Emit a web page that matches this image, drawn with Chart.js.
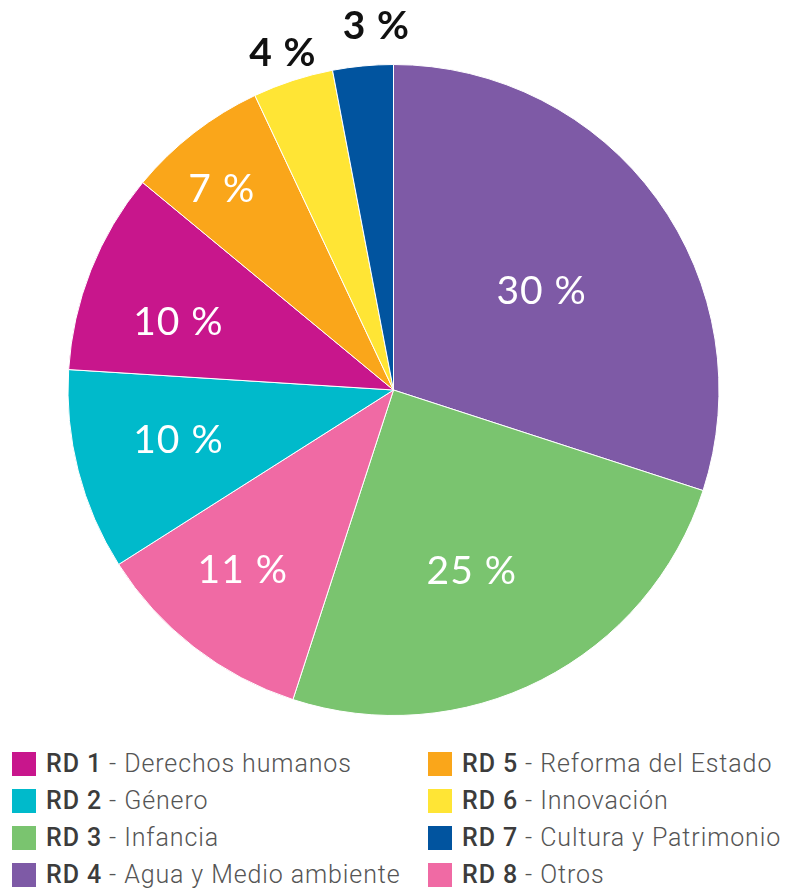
<!DOCTYPE html>
<html>
<head>
<meta charset="utf-8">
<script src="https://cdn.jsdelivr.net/npm/chart.js@4"></script>
<style>
  body { margin: 0; background: #fff; width: 791px; height: 890px; overflow: hidden; }
  #wrap { position: relative; width: 791px; height: 740px; }
  #legend { position: absolute; top: 745px; left: 12px; width: 779px; display: grid;
    grid-template-columns: 416px 360px; grid-auto-flow: column; grid-template-rows: repeat(4, 37px);
    font-family: Roboto, sans-serif; font-size: 25px; color: #555; letter-spacing: 0.9px; }
  #legend div { display: flex; align-items: center; white-space: nowrap; }
  #legend span.sw { width: 24px; height: 24px; margin-right: 10px; flex: none; }
  #legend b { font-weight: 500; color: #3c3c3c; }
  #legend span.t { font-weight: 300; }
</style>
</head>
<body>
<div id="wrap"><canvas id="chart"></canvas></div>
<div id="legend"></div>
<script>
// slices in drawing order, clockwise from the top
const codes = ["RD 4", "RD 3", "RD 8", "RD 2", "RD 1", "RD 5", "RD 6", "RD 7"];
const names = ["Agua y Medio ambiente", "Infancia", "Otros", "Género",
  "Derechos humanos", "Reforma del Estado", "Innovación", "Cultura y Patrimonio"];
const values = [30, 25, 11, 10, 10, 7, 4, 3];
const colors = ["#7E5AA6", "#7AC46F", "#F06AA4", "#00BACB", "#C8168C", "#FAA61A", "#FFE535", "#01549F"];

// label placement: distance as fraction of radius, angle nudge in degrees
const labelPos = [0.547, 0.608, 0.723, 0.679, 0.693, 0.811, 1.088, 1.118];
const labelShift = [2.3, 3.7, 2.0, 1.1, -4.1, -2.8, -0.2, 2.7];
const outside = [false, false, false, false, false, false, true, true];

const sliceLabels = {
  id: "sliceLabels",
  afterDatasetsDraw(chart) {
    const ctx = chart.ctx;
    const meta = chart.getDatasetMeta(0);
    ctx.save();
    ctx.textAlign = "center";
    ctx.textBaseline = "middle";
    ctx.letterSpacing = "1px";
    meta.data.forEach((arc, i) => {
      const p = arc.getProps(["x", "y", "startAngle", "endAngle", "outerRadius"], true);
      const a = (p.startAngle + p.endAngle) / 2 + labelShift[i] * Math.PI / 180;
      const r = p.outerRadius * labelPos[i];
      ctx.font = outside[i] ? "bold 39px Lato, sans-serif" : "39px Lato, sans-serif";
      ctx.fillStyle = outside[i] ? "#111" : "#fff";
      ctx.fillText(values[i] + " %", p.x + Math.cos(a) * r, p.y + Math.sin(a) * r);
    });
    ctx.restore();
  },
};

new Chart(document.getElementById("chart"), {
  type: "pie",
  data: {
    labels: codes,
    datasets: [{
      data: values,
      backgroundColor: colors,
      borderColor: "#fff",
      borderWidth: 1,
    }],
  },
  options: {
    responsive: true,
    maintainAspectRatio: false,
    animation: false,
    layout: { padding: { top: 64, bottom: 24, left: 0, right: 4 } },
    plugins: { legend: { display: false }, tooltip: { enabled: false } },
  },
  plugins: [sliceLabels],
});

// legend: RD 1..RD 8 in two columns
const order = [4, 3, 1, 0, 5, 6, 7, 2];
const legend = document.getElementById("legend");
order.forEach((i) => {
  const d = document.createElement("div");
  d.innerHTML = `<span class="sw" style="background:${colors[i]}"></span><b>${codes[i]}</b><span class="t">&nbsp;- ${names[i]}</span>`;
  legend.appendChild(d);
});
</script>
</body>
</html>
